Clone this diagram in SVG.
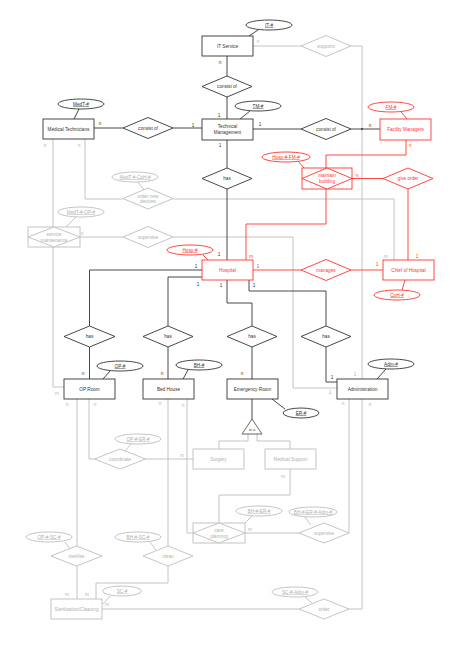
<svg xmlns="http://www.w3.org/2000/svg" width="454" height="651" viewBox="0 0 454 651">
<style>
text{font-family:"Liberation Sans",Arial,sans-serif;font-size:4.7px;text-anchor:middle;dominant-baseline:central}
.k{fill:#fff;stroke:#333;stroke-width:0.9}
.r{fill:#fff;stroke:#ff3333;stroke-width:0.9}
.g{fill:#fff;stroke:#bdbdbd;stroke-width:0.9}
.tk{fill:#333}
.tr{fill:#ff3333}
.tg{fill:#b0b0b0}
.u{text-decoration:underline}
.lk{fill:none;stroke:#333;stroke-width:0.9}
.lr{fill:none;stroke:#ff3333;stroke-width:0.9}
.lg{fill:none;stroke:#bdbdbd;stroke-width:0.9}
.lb{font-size:4.2px}
</style>
<rect width="454" height="651" fill="#fff"/>
<g id="connectors">
<polyline class="lg" points="253,46 301,46"/>
<polyline class="lg" points="351,46 362,46 362,379"/>
<polyline class="lg" points="362,399 362,609 349,609"/>
<polyline class="lg" points="349,399 349,533"/>
<polyline class="lg" points="85,139 85,199 123,199"/>
<polyline class="lg" points="173,199 394,199 394,260"/>
<polyline class="lg" points="53,139 53,227"/>
<polyline class="lg" points="53,247 53,387 64,387"/>
<polyline class="lg" points="80,237 123,237"/>
<polyline class="lg" points="173,237 293,237 293,388 337,388"/>
<polyline class="lg" points="77,399 77,546"/>
<polyline class="lg" points="77,566 77,599"/>
<polyline class="lg" points="89,399 89,459 94.5,459"/>
<polyline class="lg" points="145.5,459 193,459"/>
<polyline class="lg" points="168,399 168,546"/>
<polyline class="lg" points="187,399 187,533 193,533"/>
<polyline class="lg" points="219,523 219,495 290,495 290,469"/>
<polyline class="lg" points="245,533 299,533"/>
<polyline class="lg" points="168,566 168,583 96,583 96,599"/>
<polyline class="lg" points="102,609 299,609"/>
<polyline class="lg" points="248,434 248,441 219,441 219,449"/>
<polyline class="lg" points="257,434 257,441 290,441 290,449"/>
<polyline class="lk" points="227,56 227,76"/>
<polyline class="lk" points="227,97 227,119"/>
<polyline class="lk" points="94,128 123,128"/>
<polyline class="lk" points="173,128 202,128"/>
<polyline class="lk" points="253,129 301,129"/>
<polyline class="lk" points="351,129 380,129"/>
<circle cx="362" cy="129" r="0.9" fill="#333"/>
<polyline class="lk" points="227,140 227,168"/>
<polyline class="lk" points="227,189 227,260"/>
<polyline class="lk" points="202,270 89.5,270 89.5,326"/>
<polyline class="lk" points="202,277 168,277 168,326"/>
<polyline class="lk" points="227,280 227,303 252,303 252,326"/>
<polyline class="lk" points="249,280 249,291 326,291 326,326"/>
<polyline class="lk" points="89.5,347 89.5,379"/>
<polyline class="lk" points="168,347 168,379"/>
<polyline class="lk" points="252,347 252,379"/>
<polyline class="lk" points="326,347 326,382 337,382"/>
<polyline class="lk" points="252,399 252,419"/>
<polyline class="lr" points="406,140 406,155 326,155 326,168"/>
<polyline class="lr" points="352,178.5 383,178.5"/>
<polyline class="lr" points="408,189 408,260"/>
<polyline class="lr" points="326,189 326,224 246,224 246,260"/>
<polyline class="lr" points="253,270 301,270"/>
<polyline class="lr" points="351,270 383,270"/>
<line class="lk" x1="258" y1="30" x2="249" y2="36"/>
<line class="lk" x1="250" y1="111" x2="240" y2="119"/>
<line class="lk" x1="79" y1="109" x2="74" y2="119"/>
<line class="lr" x1="401" y1="112" x2="407" y2="119"/>
<line class="lr" x1="298" y1="161" x2="304" y2="168"/>
<line class="lg" x1="138" y1="182" x2="144" y2="190"/>
<line class="lg" x1="76" y1="217" x2="66" y2="227"/>
<line class="lr" x1="203" y1="255" x2="208" y2="260"/>
<line class="lr" x1="405" y1="280" x2="402" y2="290"/>
<line class="lk" x1="103" y1="379" x2="110" y2="371"/>
<line class="lk" x1="183" y1="379" x2="188" y2="370"/>
<line class="lk" x1="272" y1="399" x2="285" y2="409"/>
<line class="lk" x1="377" y1="379" x2="386" y2="369"/>
<line class="lg" x1="131" y1="444" x2="125" y2="451"/>
<line class="lg" x1="252" y1="516" x2="245" y2="523"/>
<line class="lg" x1="305" y1="517" x2="311" y2="525"/>
<line class="lg" x1="65" y1="542" x2="70" y2="549"/>
<line class="lg" x1="150" y1="542" x2="156" y2="550"/>
<line class="lg" x1="110" y1="596" x2="103" y2="604"/>
<line class="lg" x1="305" y1="597" x2="312" y2="603"/>
<g class="lb">
<text class="tg" x="258" y="41">n</text>
<text class="tk" x="220" y="62">n</text>
<text class="tk" x="219" y="115">1</text>
<text class="tk" x="193" y="125">1</text>
<text class="tk" x="260" y="124">1</text>
<text class="tk" x="220" y="145">1</text>
<text class="tk" x="100" y="123">n</text>
<text class="tg" x="45" y="145">n</text>
<text class="tg" x="79" y="145">n</text>
<text class="tk" x="370" y="125">n</text>
<text class="tr" x="410" y="145">n</text>
<text class="tr" x="357" y="175">n</text>
<text class="tr" x="417" y="256">1</text>
<text class="tg" x="386" y="256">m</text>
<text class="tr" x="251" y="256">m</text>
<text class="tk" x="219" y="254">1</text>
<text class="tk" x="196" y="266">1</text>
<text class="tr" x="258" y="266">1</text>
<text class="tr" x="377" y="264">1</text>
<text class="tk" x="198" y="284">1</text>
<text class="tk" x="221" y="285">1</text>
<text class="tk" x="254" y="285">1</text>
<text class="tg" x="82" y="233">n</text>
<text class="tk" x="83" y="373">n</text>
<text class="tk" x="162" y="373">n</text>
<text class="tk" x="242" y="373">n</text>
<text class="tk" x="332" y="377">1</text>
<text class="tg" x="355" y="374">1</text>
<text class="tg" x="330" y="392">1</text>
<text class="tg" x="57" y="393">m</text>
<text class="tg" x="67" y="404">n</text>
<text class="tg" x="95" y="404">n</text>
<text class="tg" x="160" y="403">n</text>
<text class="tg" x="183" y="405">n</text>
<text class="tg" x="343" y="403">n</text>
<text class="tg" x="370" y="404">n</text>
<text class="tg" x="182" y="455">m</text>
<text class="tg" x="283" y="476">m</text>
<text class="tg" x="250" y="529">m</text>
<text class="tg" x="67" y="594">m</text>
<text class="tg" x="87" y="594">m</text>
<text class="tg" x="107" y="604">m</text>
</g>
</g>
<g id="it-service"><rect class="k" x="202" y="36" width="51" height="20"/><text class="tk" x="227.5" y="46">IT Service</text></g>
<g id="it-key"><ellipse class="k" cx="269" cy="25" rx="23" ry="5"/><text class="tk u" x="269" y="25">IT-#</text></g>
<g id="consist-top"><polygon class="k" points="202,86.5 227,76 252,86.5 227,97"/><text class="tk" x="227" y="86.5">consist of</text></g>
<g id="tech-mgmt"><rect class="k" x="202" y="119" width="51" height="21"/><text class="tk" x="227.5" y="126.8">Technical</text><text class="tk" x="227.5" y="132.5">Management</text></g>
<g id="tm-key"><ellipse class="k" cx="258" cy="106" rx="23" ry="5"/><text class="tk u" x="258" y="106">TM-#</text></g>
<g id="med-tech"><rect class="k" x="43" y="119" width="51" height="20"/><text class="tk" x="68.5" y="129">Medical Technicians</text></g>
<g id="medt-key"><ellipse class="k" cx="81" cy="104" rx="23" ry="5"/><text class="tk u" x="81" y="104">MedT-#</text></g>
<g id="consist-left"><polygon class="k" points="123,128 148,117.5 173,128 148,138.5"/><text class="tk" x="148" y="128">consist of</text></g>
<g id="consist-right"><polygon class="k" points="301,129 326,118.5 351,129 326,139.5"/><text class="tk" x="326" y="129">consist of</text></g>
<g id="facility-mgrs"><rect class="r" x="380" y="119" width="51" height="21"/><text class="tr" x="405.5" y="129.5">Facility Managers</text></g>
<g id="fm-key"><ellipse class="r" cx="391" cy="107" rx="23" ry="5"/><text class="tr u" x="391" y="107">FM-#</text></g>
<g id="supports"><polygon class="g" points="301,46 326,35.5 351,46 326,56.5"/><text class="tg" x="326" y="46">supports</text></g>
<g id="has-top"><polygon class="k" points="202,178.5 227,168 252,178.5 227,189"/><text class="tk" x="227" y="178.5">has</text></g>
<g id="maintain-building"><rect class="r" x="302" y="168" width="50" height="21"/><polygon class="r" points="302,178.5 327,168 352,178.5 327,189"/><text class="tr" x="327" y="175.8">maintain</text><text class="tr" x="327" y="181.5">building</text></g>
<g id="hosp-fm-key"><ellipse class="r" cx="286" cy="157" rx="24" ry="5"/><text class="tr u" x="286" y="157">Hosp-#-FM-#</text></g>
<g id="give-order"><polygon class="r" points="383,178.5 408,168 433,178.5 408,189"/><text class="tr" x="408" y="178.5">give order</text></g>
<g id="order-new-devices"><polygon class="g" points="123,198.5 148,188 173,198.5 148,209"/><text class="tg" x="148" y="196">order new</text><text class="tg" x="148" y="201.5">devices</text></g>
<g id="medt-coh-key"><ellipse class="g" cx="135" cy="177" rx="23" ry="5"/><text class="tg u" x="135" y="177">MedT-#-CoH-#</text></g>
<g id="service-maintenance"><rect class="g" x="28" y="227" width="52" height="20"/><polygon class="g" points="28,237 54,227 80,237 54,247"/><text class="tg" x="54" y="234.3">service</text><text class="tg" x="54" y="240">maintenance</text></g>
<g id="medt-op-key"><ellipse class="g" cx="81" cy="212" rx="23" ry="5"/><text class="tg u" x="81" y="212">MedT-#-OP-#</text></g>
<g id="supervise-top"><polygon class="g" points="123,237 148,226.5 173,237 148,247.5"/><text class="tg" x="148" y="237">supervise</text></g>
<g id="hospital"><rect class="r" x="202" y="260" width="51" height="20"/><text class="tr" x="227.5" y="270">Hospital</text></g>
<g id="hosp-key"><ellipse class="r" cx="190" cy="250" rx="23" ry="5"/><text class="tr u" x="190" y="250">Hosp-#</text></g>
<g id="manages"><polygon class="r" points="301,270 326,259.5 351,270 326,280.5"/><text class="tr" x="326" y="270">manages</text></g>
<g id="chief"><rect class="r" x="383" y="260" width="51" height="20"/><text class="tr" x="408.5" y="270">Chief of Hospital</text></g>
<g id="coh-key"><ellipse class="r" cx="397" cy="295" rx="23" ry="5"/><text class="tr u" x="397" y="295">CoH-#</text></g>
<g id="has-op"><polygon class="k" points="64,336.5 89.5,326 115,336.5 89.5,347"/><text class="tk" x="89.5" y="336.5">has</text></g>
<g id="has-bh"><polygon class="k" points="143,336.5 168,326 193,336.5 168,347"/><text class="tk" x="168" y="336.5">has</text></g>
<g id="has-er"><polygon class="k" points="227,336.5 252,326 277,336.5 252,347"/><text class="tk" x="252" y="336.5">has</text></g>
<g id="has-adm"><polygon class="k" points="301,336.5 326,326 351,336.5 326,347"/><text class="tk" x="326" y="336.5">has</text></g>
<g id="op-room"><rect class="k" x="64" y="379" width="51" height="20"/><text class="tk" x="89.5" y="389">OP Room</text></g>
<g id="op-key"><ellipse class="k" cx="120" cy="366" rx="23" ry="5"/><text class="tk u" x="120" y="366">OP-#</text></g>
<g id="bed-house"><rect class="k" x="143" y="379" width="51" height="20"/><text class="tk" x="168.5" y="389">Bed House</text></g>
<g id="bh-key"><ellipse class="k" cx="199" cy="365" rx="23" ry="5"/><text class="tk u" x="199" y="365">BH-#</text></g>
<g id="emergency-room"><rect class="k" x="227" y="379" width="51" height="20"/><text class="tk" x="252.5" y="389">Emergency Room</text></g>
<g id="er-key"><ellipse class="k" cx="301" cy="413" rx="18" ry="5"/><text class="tk u" x="301" y="413">ER-#</text></g>
<g id="administration"><rect class="k" x="337" y="379" width="51" height="20"/><text class="tk" x="362.5" y="389">Administration</text></g>
<g id="adm-key"><ellipse class="k" cx="391" cy="364" rx="23" ry="5"/><text class="tk u" x="391" y="364">Adm-#</text></g>
<g id="isa"><polygon fill="#fff" stroke="#555" stroke-width="0.9" points="252,419 262,434 242,434"/><text class="tk" x="252" y="429.5" style="font-size:4px">is a</text></g>
<g id="surgery"><rect class="g" x="193" y="449" width="51" height="20"/><text class="tg" x="218.5" y="459">Surgery</text></g>
<g id="medical-support"><rect class="g" x="265" y="449" width="51" height="20"/><text class="tg" x="290.5" y="459">Medical Support</text></g>
<g id="coordinate"><polygon class="g" points="94.5,459 120,449 145.5,459 120,469"/><text class="tg" x="120" y="459">coordinate</text></g>
<g id="op-er-key"><ellipse class="g" cx="138" cy="439" rx="23" ry="5"/><text class="tg u" x="138" y="439">OP-#-ER-#</text></g>
<g id="care-planning"><rect class="g" x="193" y="523" width="52" height="20"/><polygon class="g" points="193,533 219,523 245,533 219,543"/><text class="tg" x="219" y="530.3">care</text><text class="tg" x="219" y="536">planning</text></g>
<g id="bh-er-key"><ellipse class="g" cx="259" cy="511" rx="23" ry="5"/><text class="tg u" x="259" y="511">BH-#-ER-#</text></g>
<g id="supervise-bottom"><polygon class="g" points="299,533 324,523 349,533 324,543"/><text class="tg" x="324" y="533">supervise</text></g>
<g id="bh-er-adm-key"><ellipse class="g" cx="313" cy="512" rx="24" ry="5"/><text class="tg u" x="313" y="512">BH-#-ER-#-Adm-#</text></g>
<g id="sterilise"><polygon class="g" points="51,556 76.5,546 102,556 76.5,566"/><text class="tg" x="76.5" y="556">sterilise</text></g>
<g id="op-sc-key"><ellipse class="g" cx="49" cy="537" rx="23" ry="5"/><text class="tg u" x="49" y="537">OP-#-SC-#</text></g>
<g id="clean"><polygon class="g" points="143,556 168,546 193,556 168,566"/><text class="tg" x="168" y="556">clean</text></g>
<g id="bh-sc-key"><ellipse class="g" cx="138" cy="537" rx="23" ry="5"/><text class="tg u" x="138" y="537">BH-#-SC-#</text></g>
<g id="sterilisation"><rect class="g" x="51" y="599" width="51" height="20"/><text class="tg" x="76.5" y="609">Sterilisation/Cleaning</text></g>
<g id="sc-key"><ellipse class="g" cx="122" cy="591" rx="19.5" ry="5"/><text class="tg u" x="122" y="591">SC-#</text></g>
<g id="order"><polygon class="g" points="299,609 324,599 349,609 324,619"/><text class="tg" x="324" y="609">order</text></g>
<g id="sc-adm-key"><ellipse class="g" cx="295" cy="592" rx="23" ry="5"/><text class="tg u" x="295" y="592">SC-#-Adm-#</text></g>
</svg>
